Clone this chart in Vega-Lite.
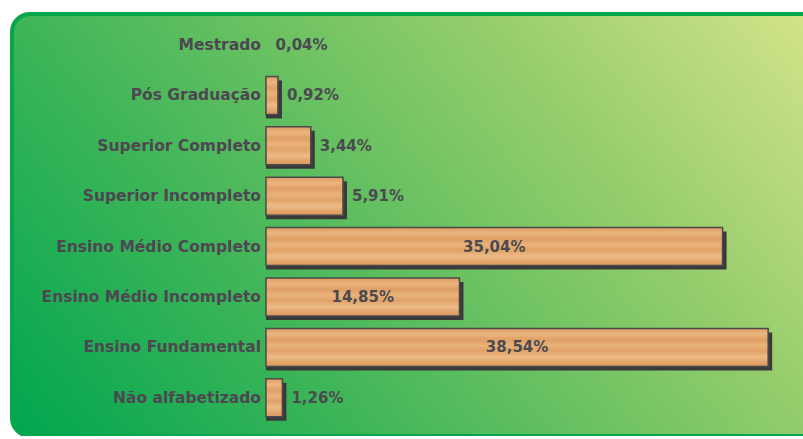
{
  "$schema": "https://vega.github.io/schema/vega-lite/v6.json",
  "width": 810,
  "height": 422,
  "autosize": {"type": "none"},
  "padding": {"left": 12, "top": 14, "right": 0, "bottom": 0},
  "background": "#ffffff",
  "config": {
    "view": {
      "fill": {
        "gradient": "linear",
        "x1": 0, "y1": 1, "x2": 1.207, "y2": 0.483,
        "stops": [
          {"offset": 0, "color": "#00a650"},
          {"offset": 0.3, "color": "#3db558"},
          {"offset": 0.7, "color": "#95cd6b"},
          {"offset": 1, "color": "#d6e48b"}
        ]
      },
      "stroke": "#07a64b",
      "strokeWidth": 4,
      "cornerRadius": 18
    }
  },
  "data": {
    "values": [
      {"nivel": "Mestrado", "value": 0.04, "texto": "0,04%"},
      {"nivel": "Pós Graduação", "value": 0.92, "texto": "0,92%"},
      {"nivel": "Superior Completo", "value": 3.44, "texto": "3,44%"},
      {"nivel": "Superior Incompleto", "value": 5.91, "texto": "5,91%"},
      {"nivel": "Ensino Médio Completo", "value": 35.04, "texto": "35,04%"},
      {"nivel": "Ensino Médio Incompleto", "value": 14.85, "texto": "14,85%"},
      {"nivel": "Ensino Fundamental", "value": 38.54, "texto": "38,54%"},
      {"nivel": "Não alfabetizado", "value": 1.26, "texto": "1,26%"}
    ]
  },
  "encoding": {
    "y": {
      "field": "nivel",
      "type": "nominal",
      "sort": null,
      "axis": null,
      "scale": {"paddingInner": 0.246, "paddingOuter": 0.31, "align": 0.385}
    }
  },
  "layer": [
    {
      "mark": {"type": "bar", "fill": "#3a3a3a", "xOffset": 4, "yOffset": 4},
      "encoding": {
        "x": {"field": "value", "type": "quantitative", "axis": null,
              "scale": {"domain": [-19.49, 42.67], "nice": false, "zero": false}},
        "x2": {"datum": 0},
        "opacity": {"condition": {"test": "datum.value < 0.1", "value": 0}, "value": 1}
      }
    },
    {
      "mark": {
        "type": "bar",
        "stroke": "#4a4a4a",
        "strokeWidth": 1.5,
        "fill": {
          "gradient": "linear",
          "x1": 0, "y1": 0, "x2": 0, "y2": 1,
          "stops": [
            {"offset": 0, "color": "#dd9c63"},
            {"offset": 0.15, "color": "#ebb67f"},
            {"offset": 0.3, "color": "#df9f64"},
            {"offset": 0.45, "color": "#eab27b"},
            {"offset": 0.6, "color": "#e1a267"},
            {"offset": 0.75, "color": "#edba86"},
            {"offset": 0.9, "color": "#e2a46a"},
            {"offset": 1, "color": "#d9965c"}
          ]
        }
      },
      "encoding": {
        "x": {"field": "value", "type": "quantitative"},
        "x2": {"datum": 0},
        "opacity": {"condition": {"test": "datum.value < 0.1", "value": 0}, "value": 1}
      }
    },
    {
      "mark": {"type": "text", "align": "right", "baseline": "middle", "dx": -5,
               "font": "DejaVu Sans", "fontWeight": "bold", "fontSize": 15.5, "fill": "#4d4751"},
      "encoding": {
        "x": {"datum": 0, "type": "quantitative"},
        "text": {"field": "nivel"}
      }
    },
    {
      "transform": [{"filter": "datum.value < 10"}],
      "mark": {"type": "text", "align": "left", "baseline": "middle", "dx": 9,
               "font": "DejaVu Sans", "fontWeight": "bold", "fontSize": 15, "fill": "#4a4a50"},
      "encoding": {
        "x": {"field": "value", "type": "quantitative"},
        "text": {"field": "texto"}
      }
    },
    {
      "transform": [{"filter": "datum.value >= 10"}, {"calculate": "datum.value / 2", "as": "meio"}],
      "mark": {"type": "text", "align": "center", "baseline": "middle",
               "font": "DejaVu Sans", "fontWeight": "bold", "fontSize": 15, "fill": "#4a4a50"},
      "encoding": {
        "x": {"field": "meio", "type": "quantitative"},
        "text": {"field": "texto"}
      }
    }
  ]
}
